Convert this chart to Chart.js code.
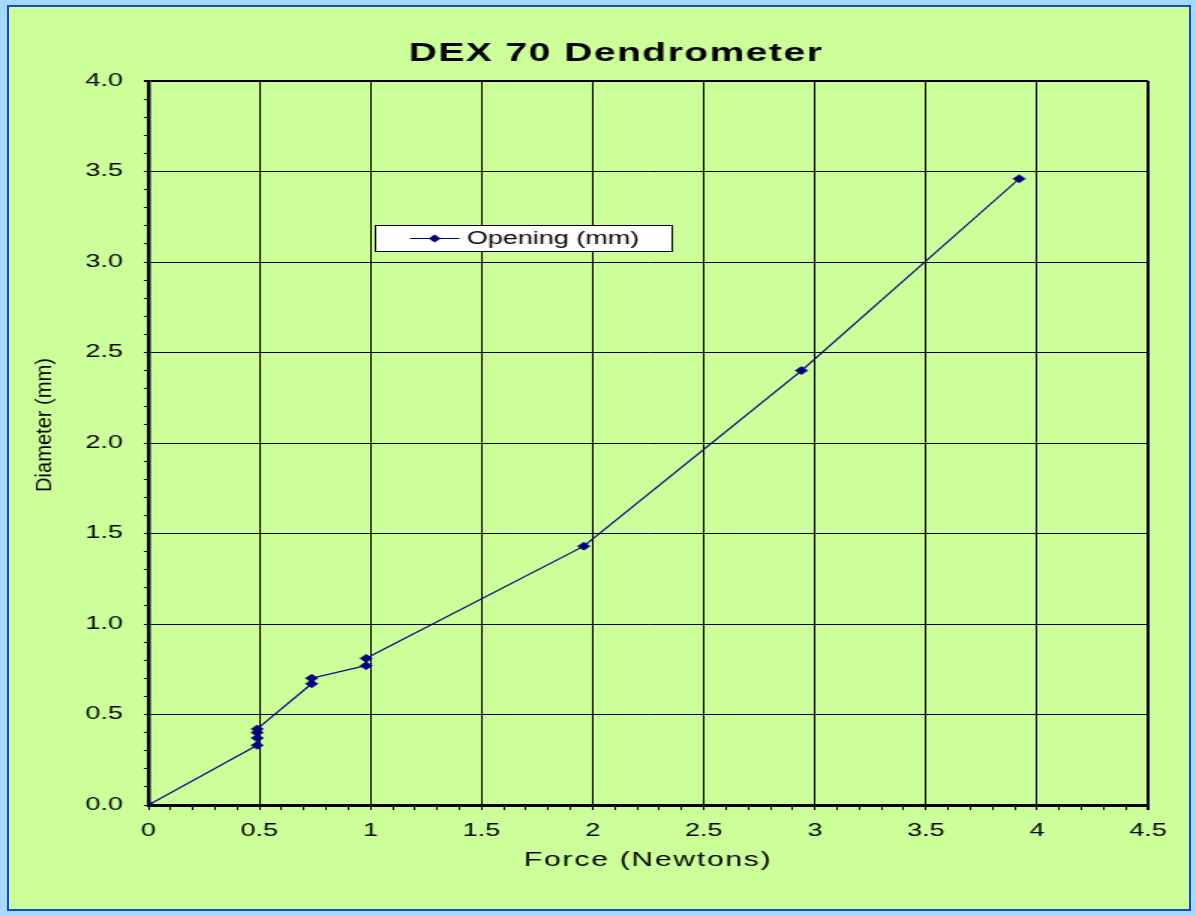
<!DOCTYPE html>
<html>
<head>
<meta charset="utf-8">
<script src="https://cdn.jsdelivr.net/npm/chart.js@4"></script>
<style>
  html, body { margin: 0; padding: 0; background: #a6d9ff; overflow: hidden; }
  #frame { position: absolute; left: 7px; top: 5px; width: 1180px; height: 902px; border: 2px solid #1547d6; background: #ccff99; }
  #stretch { position: absolute; left: 0; top: 0; width: 798px; height: 916px; transform: scaleX(1.49875); transform-origin: 0 0; }
</style>
</head>
<body>
<div id="frame"></div>
<div id="stretch"><canvas id="chart" width="798" height="916"></canvas></div>
<script>
const chartTitle = 'DEX 70 Dendrometer'
const xTitle = 'Force (Newtons)'
const yTitle = 'Diameter (mm)'
const seriesName = 'Opening (mm)'

const forceN = [0, 0.49, 0.49, 0.49, 0.49, 0.735, 0.735, 0.98, 0.98, 1.96, 2.94, 3.92]
const openingMm = [0, 0.33, 0.37, 0.40, 0.42, 0.67, 0.70, 0.77, 0.81, 1.43, 2.40, 3.46]

const xRange = [0, 4.5]
const yRange = [0, 4]
const minorStep = 0.1
const majorStep = 0.5

const fontFamily = '"Liberation Sans", Arial, sans-serif'
const navy = '#000080'

const near = (a, b) => Math.abs(a - b) < 1e-6
const isMajor = v => near(v / majorStep, Math.round(v / majorStep))

// title, axis titles and the floating legend box
const decorations = {
  id: 'decorations',
  afterDraw (chart) {
    const { ctx, chartArea } = chart
    ctx.save()
    ctx.fillStyle = '#000'
    ctx.textAlign = 'center'
    ctx.textBaseline = 'middle'

    ctx.font = 'bold 26px ' + fontFamily
    ctx.letterSpacing = '1px'
    ctx.fillText(chartTitle, 411, 54)

    ctx.font = '20px ' + fontFamily
    ctx.letterSpacing = '1.2px'
    ctx.fillText(xTitle, (chartArea.left + chartArea.right) / 2, 860)

    ctx.letterSpacing = '0px'
    ctx.save()
    ctx.translate(30, 425)
    ctx.rotate(-Math.PI / 2)
    ctx.scale(1.34, 1)
    ctx.font = '15px ' + fontFamily
    ctx.fillText(yTitle, 0, 0)
    ctx.restore()

    // legend
    const box = { x: 250.5, y: 225.5, w: 198, h: 26 }
    ctx.fillStyle = '#fff'
    ctx.fillRect(box.x, box.y, box.w, box.h)
    ctx.strokeStyle = '#000'
    ctx.lineWidth = 1
    ctx.strokeRect(box.x, box.y, box.w, box.h)
    const ds = chart.data.datasets[0]
    const ly = 238.5
    ctx.strokeStyle = ds.borderColor
    ctx.beginPath()
    ctx.moveTo(273.5, ly)
    ctx.lineTo(306.5, ly)
    ctx.stroke()
    ctx.fillStyle = ds.pointBackgroundColor
    ctx.beginPath()
    ctx.moveTo(290, ly - 4)
    ctx.lineTo(294, ly)
    ctx.lineTo(290, ly + 4)
    ctx.lineTo(286, ly)
    ctx.closePath()
    ctx.fill()
    ctx.fillStyle = '#000'
    ctx.textAlign = 'left'
    ctx.font = '18px ' + fontFamily
    ctx.fillText(ds.label, 311.5, 239.5)
    ctx.restore()
  }
}

const tickFont = { family: fontFamily, size: 18 }

new Chart(document.getElementById('chart'), {
  type: 'scatter',
  data: {
    datasets: [{
      label: seriesName,
      data: forceN.map((x, i) => ({ x, y: openingMm[i] })),
      showLine: true,
      borderColor: navy,
      borderWidth: 1.2,
      pointStyle: 'rectRot',
      pointRadius: 4,
      pointBorderWidth: 0.8,
      pointBackgroundColor: navy,
      pointBorderColor: navy
    }]
  },
  options: {
    responsive: false,
    animation: false,
    layout: { padding: { left: 0, right: 32, top: 81, bottom: 0 } },
    plugins: {
      legend: { display: false },
      title: { display: false },
      tooltip: { enabled: false }
    },
    scales: {
      x: {
        type: 'linear',
        position: 'bottom',
        min: xRange[0],
        max: xRange[1],
        afterFit (scale) { scale.height = 111 },
        ticks: {
          stepSize: minorStep,
          autoSkip: false,
          maxTicksLimit: 100,
          maxRotation: 0,
          color: '#000',
          font: tickFont,
          padding: 10,
          callback: v => isMajor(v) ? String(Math.round(v * 10) / 10) : ''
        },
        grid: {
          color: c => c.tick && isMajor(c.tick.value) ? '#000' : 'rgba(0,0,0,0)',
          lineWidth: c => c.tick && near(c.tick.value, xRange[1]) ? 2 : 1,
          tickColor: '#000',
          tickLength: 5
        },
        border: { color: '#000', width: 3 }
      },
      y: {
        type: 'linear',
        min: yRange[0],
        max: yRange[1],
        afterFit (scale) { scale.width = 99 },
        ticks: {
          stepSize: minorStep,
          autoSkip: false,
          maxTicksLimit: 100,
          color: '#000',
          font: tickFont,
          padding: 14,
          callback: v => isMajor(v) ? v.toFixed(1) : ''
        },
        grid: {
          color: c => c.tick && isMajor(c.tick.value) ? '#000' : 'rgba(0,0,0,0)',
          lineWidth: c => c.tick && near(c.tick.value, yRange[1]) ? 2 : 1,
          tickColor: '#000',
          tickLength: 3
        },
        border: { color: '#000', width: 2.5 }
      }
    }
  },
  plugins: [decorations]
})
</script>
</body>
</html>
